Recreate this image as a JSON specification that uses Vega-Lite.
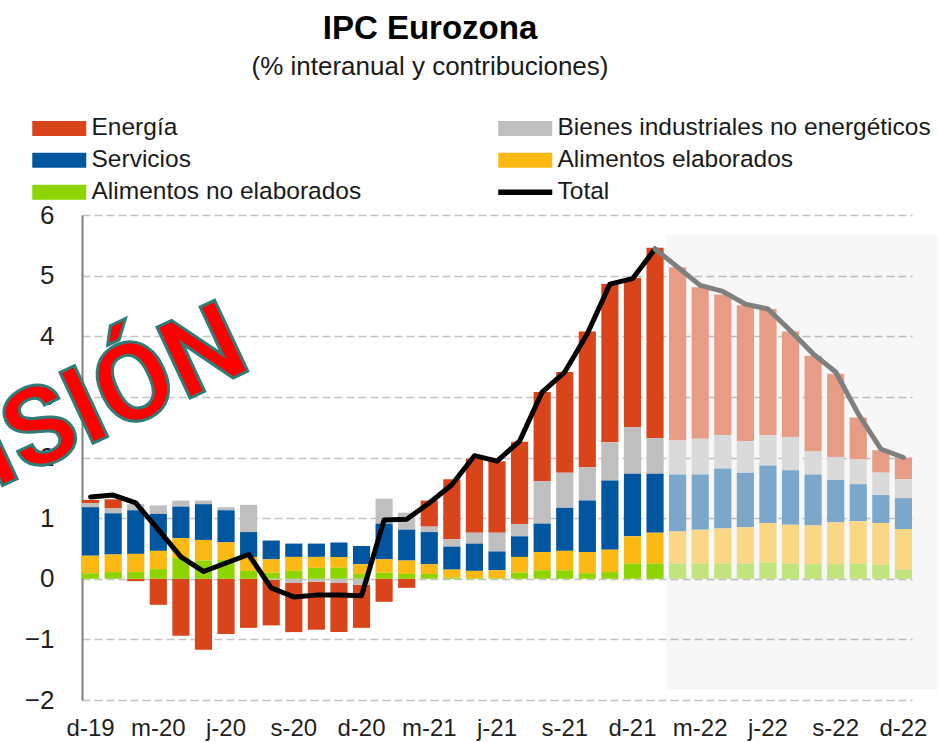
{
  "$schema": "https://vega.github.io/schema/vega-lite/v6.json",
  "width": 830,
  "height": 485,
  "autosize": {"type": "none"},
  "padding": {"left": 82, "top": 215, "right": 26, "bottom": 42},
  "background": "white",
  "title": {
    "text": "IPC Eurozona",
    "subtitle": "(% interanual y contribuciones)",
    "font": "Liberation Sans",
    "subtitleFont": "Liberation Sans",
    "fontSize": 33,
    "subtitleFontSize": 26,
    "fontWeight": "bold",
    "color": "#000000",
    "subtitleColor": "#1a1a1a",
    "anchor": "middle",
    "frame": "group",
    "dx": -67,
    "offset": 36,
    "subtitlePadding": 8
  },
  "config": {
    "view": {"stroke": null},
    "font": "Liberation Sans"
  },
  "datasets": {
    "ipc": [
      {"mes": "2019-12", "ene": 0.05, "bie": 0.07, "ser": 0.80, "ael": 0.29, "ane": 0.09, "total": 1.35},
      {"mes": "2020-01", "ene": 0.15, "bie": 0.08, "ser": 0.68, "ael": 0.29, "ane": 0.11, "total": 1.38},
      {"mes": "2020-02", "ene": -0.04, "bie": 0.10, "ser": 0.72, "ael": 0.30, "ane": 0.11, "total": 1.25},
      {"mes": "2020-03", "ene": -0.43, "bie": 0.14, "ser": 0.61, "ael": 0.30, "ane": 0.16, "total": 0.81},
      {"mes": "2020-04", "ene": -0.94, "bie": 0.10, "ser": 0.52, "ael": 0.33, "ane": 0.34, "total": 0.36},
      {"mes": "2020-05", "ene": -1.17, "bie": 0.06, "ser": 0.59, "ael": 0.34, "ane": 0.30, "total": 0.12},
      {"mes": "2020-06", "ene": -0.91, "bie": 0.05, "ser": 0.53, "ael": 0.29, "ane": 0.31, "total": 0.26},
      {"mes": "2020-07", "ene": -0.81, "bie": 0.45, "ser": 0.41, "ael": 0.23, "ane": 0.13, "total": 0.40},
      {"mes": "2020-08", "ene": -0.75, "bie": -0.02, "ser": 0.31, "ael": 0.22, "ane": 0.10, "total": -0.15},
      {"mes": "2020-09", "ene": -0.81, "bie": -0.07, "ser": 0.22, "ael": 0.23, "ane": 0.13, "total": -0.30},
      {"mes": "2020-10", "ene": -0.79, "bie": -0.05, "ser": 0.22, "ael": 0.18, "ane": 0.18, "total": -0.27},
      {"mes": "2020-11", "ene": -0.81, "bie": -0.07, "ser": 0.24, "ael": 0.18, "ane": 0.18, "total": -0.27},
      {"mes": "2020-12", "ene": -0.71, "bie": -0.10, "ser": 0.30, "ael": 0.16, "ane": 0.08, "total": -0.28},
      {"mes": "2021-01", "ene": -0.38, "bie": 0.41, "ser": 0.59, "ael": 0.22, "ane": 0.10, "total": 0.97},
      {"mes": "2021-02", "ene": -0.15, "bie": 0.28, "ser": 0.51, "ael": 0.22, "ane": 0.08, "total": 0.98},
      {"mes": "2021-03", "ene": 0.43, "bie": 0.09, "ser": 0.53, "ael": 0.16, "ane": 0.08, "total": 1.25},
      {"mes": "2021-04", "ene": 0.99, "bie": 0.12, "ser": 0.38, "ael": 0.13, "ane": 0.02, "total": 1.55},
      {"mes": "2021-05", "ene": 1.22, "bie": 0.18, "ser": 0.45, "ael": 0.12, "ane": 0.01, "total": 2.03},
      {"mes": "2021-06", "ene": 1.18, "bie": 0.31, "ser": 0.31, "ael": 0.13, "ane": 0.01, "total": 1.94},
      {"mes": "2021-07", "ene": 1.36, "bie": 0.20, "ser": 0.34, "ael": 0.26, "ane": 0.10, "total": 2.27},
      {"mes": "2021-08", "ene": 1.47, "bie": 0.70, "ser": 0.47, "ael": 0.30, "ane": 0.14, "total": 3.08},
      {"mes": "2021-09", "ene": 1.66, "bie": 0.58, "ser": 0.71, "ael": 0.32, "ane": 0.14, "total": 3.41},
      {"mes": "2021-10", "ene": 2.24, "bie": 0.55, "ser": 0.85, "ael": 0.35, "ane": 0.09, "total": 4.04},
      {"mes": "2021-11", "ene": 2.61, "bie": 0.63, "ser": 1.14, "ael": 0.37, "ane": 0.11, "total": 4.86},
      {"mes": "2021-12", "ene": 2.46, "bie": 0.77, "ser": 1.03, "ael": 0.45, "ane": 0.25, "total": 4.95},
      {"mes": "2022-01", "ene": 3.14, "bie": 0.59, "ser": 0.97, "ael": 0.51, "ane": 0.25, "total": 5.44},
      {"mes": "2022-02", "ene": 2.86, "bie": 0.56, "ser": 0.94, "ael": 0.53, "ane": 0.25, "total": 5.14},
      {"mes": "2022-03", "ene": 2.50, "bie": 0.59, "ser": 0.91, "ael": 0.56, "ane": 0.25, "total": 4.84},
      {"mes": "2022-04", "ene": 2.32, "bie": 0.55, "ser": 0.99, "ael": 0.58, "ane": 0.25, "total": 4.74},
      {"mes": "2022-05", "ene": 2.24, "bie": 0.52, "ser": 0.90, "ael": 0.60, "ane": 0.25, "total": 4.53},
      {"mes": "2022-06", "ene": 2.08, "bie": 0.50, "ser": 0.95, "ael": 0.65, "ane": 0.27, "total": 4.45},
      {"mes": "2022-07", "ene": 1.74, "bie": 0.55, "ser": 0.90, "ael": 0.64, "ane": 0.25, "total": 4.09},
      {"mes": "2022-08", "ene": 1.58, "bie": 0.38, "ser": 0.84, "ael": 0.64, "ane": 0.24, "total": 3.71},
      {"mes": "2022-09", "ene": 1.37, "bie": 0.38, "ser": 0.70, "ael": 0.69, "ane": 0.24, "total": 3.41},
      {"mes": "2022-10", "ene": 0.69, "bie": 0.41, "ser": 0.61, "ael": 0.70, "ane": 0.25, "total": 2.72},
      {"mes": "2022-11", "ene": 0.37, "bie": 0.37, "ser": 0.46, "ael": 0.69, "ane": 0.23, "total": 2.14},
      {"mes": "2022-12", "ene": 0.36, "bie": 0.31, "ser": 0.51, "ael": 0.67, "ane": 0.15, "total": 2.00}
    ],
    "sombra": [{"desde": "2022-02", "hasta": "2022-12", "ymin": -1.83, "ymax": 5.67}],
    "marca": [{"mes": "2020-07", "nivel": 3.43, "texto": "PREVISIÓN"}]
  },
  "layer": [
    {
      "data": {"name": "sombra"},
      "mark": {"type": "rect", "color": "#000000", "opacity": 0.03},
      "encoding": {
        "x": {"field": "desde", "type": "ordinal", "bandPosition": -0.15,
              "scale": {"domain": ["2019-12","2020-01","2020-02","2020-03","2020-04","2020-05","2020-06","2020-07","2020-08","2020-09","2020-10","2020-11","2020-12","2021-01","2021-02","2021-03","2021-04","2021-05","2021-06","2021-07","2021-08","2021-09","2021-10","2021-11","2021-12","2022-01","2022-02","2022-03","2022-04","2022-05","2022-06","2022-07","2022-08","2022-09","2022-10","2022-11","2022-12"], "paddingInner": 0.24, "paddingOuter": 0},
              "axis": {"title": null, "values": ["2019-12","2020-03","2020-06","2020-09","2020-12","2021-03","2021-06","2021-09","2021-12","2022-03","2022-06","2022-09","2022-12"],
                       "labelExpr": "['e','f','m','a','m','j','j','a','s','o','n','d'][toNumber(substring(datum.value,5,7))-1] + '-' + substring(datum.value,2,4)",
                       "domain": false, "ticks": false, "grid": false, "labelAngle": 0, "labelFontSize": 24, "labelFont": "Liberation Sans", "labelColor": "#1f1f1f", "labelPadding": 16, "labelOverlap": false}},
        "x2": {"field": "hasta", "bandPosition": 2.5},
        "y": {"field": "ymax", "type": "quantitative", "scale": {"domain": [-2, 6], "nice": false},
              "axis": {"title": null, "values": [-2,-1,0,1,2,3,4,5,6], "format": "d", "grid": true, "gridDash": [8,4], "gridColor": "#C3C3C3", "gridWidth": 1.5,
                       "domainColor": "#808080", "domainWidth": 2, "ticks": false, "labelFontSize": 26, "labelFont": "Liberation Sans", "labelColor": "#1f1f1f", "labelPadding": 28}},
        "y2": {"field": "ymin"}
      }
    },
    {
      "data": {"name": "ipc"},
      "transform": [
        {"filter": "datum.mes <= '2022-01'"},
        {"fold": ["ene", "bie", "ser", "ael", "ane"], "as": ["clave", "valor"]},
        {"calculate": "['Energía','Bienes industriales no energéticos','Servicios','Alimentos elaborados','Alimentos no elaborados'][indexof(['ene','bie','ser','ael','ane'], datum.clave)]", "as": "componente"},
        {"calculate": "indexof(['ane','ael','ser','bie','ene'], datum.clave)", "as": "orden"}
      ],
      "mark": {"type": "bar"},
      "encoding": {
        "x": {"field": "mes", "type": "ordinal"},
        "y": {"field": "valor", "type": "quantitative", "stack": "zero"},
        "color": {"field": "componente", "type": "nominal",
                  "scale": {"domain": ["Energía","Servicios","Alimentos no elaborados","Bienes industriales no energéticos","Alimentos elaborados","Total"],
                            "range": ["#D9441A","#0057A0","#8DD400","#BFBFBF","#FDB913","#000000"]},
                  "legend": {"title": null, "orient": "none", "legendX": -50, "legendY": -99, "columns": 2, "columnPadding": 136, "rowPadding": 7,
                             "symbolType": "M-2.7,-0.75H2.7V0.75H-2.7Z", "symbolSize": 400, "symbolStrokeWidth": 0, "symbolOffset": 15,
                             "labelFontSize": 24.5, "labelFont": "Liberation Sans",
                             "labelColor": "#1a1a1a", "labelOffset": 20, "labelLimit": 600,
                             "encode": {"symbols": {"update": {
                               "fill": {"scale": "color", "field": "value"},
                               "stroke": {"value": "transparent"},
                               "strokeWidth": {"value": 0},
                               "opacity": {"value": 1},
                               "shape": {"signal": "datum.value === 'Total' ? 'M-2.7,-0.28H2.7V0.28H-2.7Z' : 'M-2.7,-0.75H2.7V0.75H-2.7Z'"}}}}}},
        "order": {"field": "orden", "type": "quantitative"}
      }
    },
    {
      "data": {"name": "ipc"},
      "transform": [
        {"filter": "datum.mes >= '2022-02'"},
        {"fold": ["ene", "bie", "ser", "ael", "ane"], "as": ["clave", "valor"]},
        {"calculate": "['Energía','Bienes industriales no energéticos','Servicios','Alimentos elaborados','Alimentos no elaborados'][indexof(['ene','bie','ser','ael','ane'], datum.clave)]", "as": "componente"},
        {"calculate": "indexof(['ane','ael','ser','bie','ene'], datum.clave)", "as": "orden"}
      ],
      "mark": {"type": "bar"},
      "encoding": {
        "x": {"field": "mes", "type": "ordinal"},
        "y": {"field": "valor", "type": "quantitative", "stack": "zero"},
        "fill": {"field": "componente", "type": "nominal",
                 "scale": {"domain": ["Energía","Bienes industriales no energéticos","Servicios","Alimentos elaborados","Alimentos no elaborados"],
                           "range": ["#E79C86","#DADADA","#7BA7CB","#F9D785","#C2E47C"]},
                 "legend": null},
        "order": {"field": "orden", "type": "quantitative"}
      }
    },
    {
      "mark": {"type": "rule", "color": "#5A5A5A", "strokeWidth": 2},
      "encoding": {"y": {"datum": 0}}
    },
    {
      "data": {"name": "ipc"},
      "transform": [{"filter": "datum.mes <= '2022-01'"}],
      "mark": {"type": "line", "strokeWidth": 5, "strokeJoin": "round", "strokeCap": "round"},
      "encoding": {
        "x": {"field": "mes", "type": "ordinal"},
        "y": {"field": "total", "type": "quantitative"},
        "color": {"datum": "Total", "type": "nominal"}
      }
    },
    {
      "data": {"name": "ipc"},
      "transform": [{"filter": "datum.mes >= '2022-01'"}],
      "mark": {"type": "line", "strokeWidth": 5, "strokeJoin": "round", "strokeCap": "round", "color": "#7F7F7F"},
      "encoding": {
        "x": {"field": "mes", "type": "ordinal"},
        "y": {"field": "total", "type": "quantitative"}
      }
    },
    {
      "data": {"name": "marca"},
      "mark": {"type": "text", "align": "right", "baseline": "alphabetic", "angle": -25, "fontSize": 110, "font": "Roboto", "fontWeight": "bold", "fill": "#FF0000", "stroke": "#2E7D78", "strokeWidth": 3, "dx": 6},
      "encoding": {
        "x": {"field": "mes", "type": "ordinal"},
        "y": {"field": "nivel", "type": "quantitative"},
        "text": {"field": "texto"}
      }
    }
  ]
}
